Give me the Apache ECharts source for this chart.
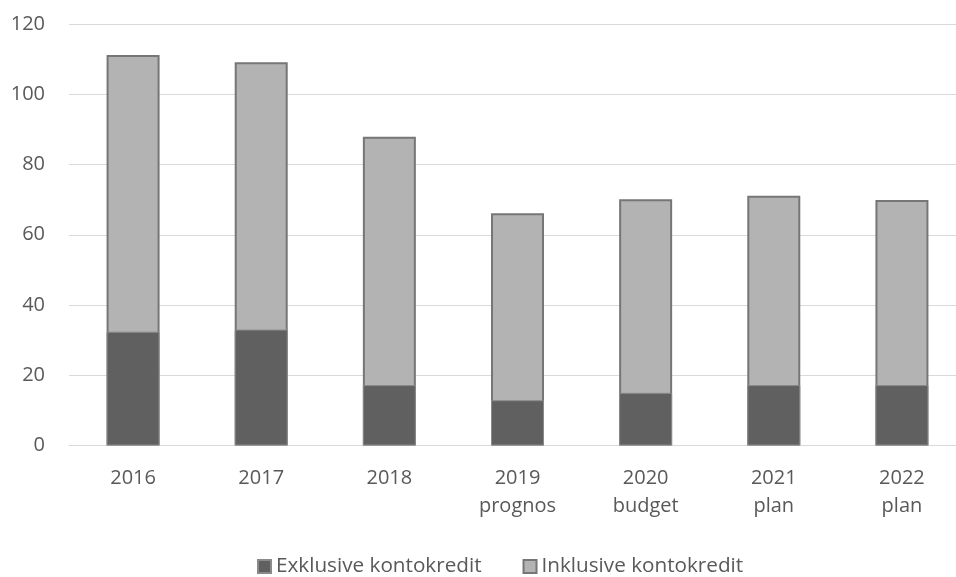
<!DOCTYPE html>
<html>
<head>
<meta charset="utf-8">
<script src="https://cdn.jsdelivr.net/npm/echarts@6/dist/echarts.min.js"></script>
<style>
html,body{margin:0;padding:0;background:#fff;}
#chart{width:956px;height:577px;}
</style>
</head>
<body>
<div id="chart"></div>
<script>
const categories = ['2016', '2017', '2018', '2019\nprognos', '2020\nbudget', '2021\nplan', '2022\nplan'];
const exklusive = [32.4, 33.0, 17.2, 12.9, 15.0, 17.2, 17.2];
const inklusive = [111.2, 109.1, 87.9, 66.1, 70.1, 71.1, 69.9];
const yTicks = { min: 0, max: 120, interval: 20 };

const textColor = '#595959';
const font = 'Open Sans';
const chart = echarts.init(document.getElementById('chart'), null, { renderer: 'canvas' });
chart.setOption({
  animation: false,
  backgroundColor: '#ffffff',
  textStyle: { fontFamily: font },
  grid: { left: 69, top: 24, right: -10, bottom: 131.5, containLabel: false, outerBoundsMode: 'none' },
  legend: {
    left: 252, top: 551,
    icon: 'rect',
    itemWidth: 13, itemHeight: 13, itemGap: 41,
    textStyle: { color: textColor, fontSize: 20.7, fontFamily: font },
    data: ['Exklusive kontokredit', 'Inklusive kontokredit']
  },
  xAxis: {
    type: 'category',
    data: categories,
    axisLine: { lineStyle: { color: '#d9d9d9', width: 1 } },
    axisTick: { show: false },
    axisLabel: { color: textColor, fontSize: 20, fontFamily: font, lineHeight: 28, margin: 19 }
  },
  yAxis: {
    type: 'value',
    min: yTicks.min, max: yTicks.max, interval: yTicks.interval,
    axisLine: { show: false },
    axisTick: { show: false },
    splitLine: { lineStyle: { color: '#d9d9d9', width: 1 } },
    axisLabel: { color: textColor, fontSize: 20, fontFamily: font, margin: 24 }
  },
  series: [
    {
      name: 'Exklusive kontokredit',
      type: 'bar',
      data: exklusive,
      barWidth: 53,
      barGap: '-100%',
      z: 3,
      itemStyle: { color: '#606060', borderColor: '#8a8a8a', borderWidth: 1 }
    },
    {
      name: 'Inklusive kontokredit',
      type: 'bar',
      data: inklusive,
      barWidth: 53,
      barGap: '-100%',
      z: 2,
      itemStyle: { color: '#b3b3b3', borderColor: '#767676', borderWidth: 2 }
    }
  ]
});
</script>
</body>
</html>
